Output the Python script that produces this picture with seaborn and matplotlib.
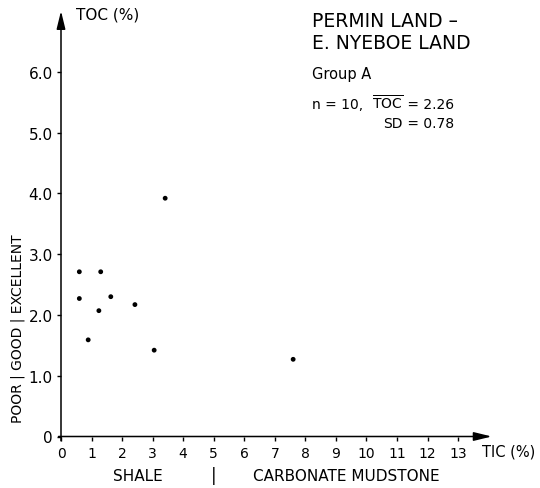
import matplotlib
matplotlib.use("Agg")
import matplotlib.pyplot as plt
import seaborn as sns
import pandas as pd

# Sample values: total inorganic carbon vs total organic carbon (%)
tic = [0.60, 1.30, 0.60, 1.63, 1.24, 2.42, 0.89, 3.05, 3.41, 7.60]
toc = [2.71, 2.71, 2.27, 2.30, 2.07, 2.17, 1.59, 1.42, 3.92, 1.27]

x_ticks = list(range(0, 14))
x_tick_labels = [str(v) for v in x_ticks]
y_ticks = [0, 1, 2, 3, 4, 5, 6]
y_tick_labels = ["0", "1.0", "2.0", "3.0", "4.0", "5.0", "6.0"]

n_samples = 10
toc_mean = 2.26
toc_sd = 0.78

sns.set_theme(style="ticks")
plt.rcParams["font.family"] = ["DejaVu Sans"]
plt.rcParams["mathtext.fontset"] = "dejavusans"
plt.rcParams["text.color"] = "black"
plt.rcParams["axes.labelcolor"] = "black"
plt.rcParams["xtick.color"] = "black"
plt.rcParams["ytick.color"] = "black"

W, H = 540, 489
fig = plt.figure(figsize=(W / 100, H / 100), dpi=100)
fig.patch.set_facecolor("white")


def px(x, y):
    return x / W, 1 - y / H


x0, y0 = 61, 437.5
x_end, y_end = 491.7, 12
ax = fig.add_axes([x0 / W, (H - y0) / H, (x_end - x0) / W, (y0 - y_end) / H])
ax.set_xlim(0, 14.1)
ax.set_ylim(0, 7.0)

df = pd.DataFrame({"TIC": tic, "TOC": toc})
sns.scatterplot(data=df, x="TIC", y="TOC", ax=ax, color="black", s=12,
                edgecolor="none", zorder=5)

for s in ax.spines.values():
    s.set_visible(False)

# axes drawn as arrows
arrow = dict(arrowstyle="-|>,head_length=0.9,head_width=0.22", color="black",
             lw=1.1, shrinkA=0, shrinkB=0, mutation_scale=12)
ax.annotate("", xy=(14.1, 0), xytext=(-0.08, 0), arrowprops=arrow,
            annotation_clip=False)
ax.annotate("", xy=(0, 7.0), xytext=(0, -0.07), arrowprops=arrow,
            annotation_clip=False)

ax.set_xticks(x_ticks)
ax.set_xticklabels(x_tick_labels, fontsize=10)
ax.set_yticks(y_ticks)
ax.set_yticklabels(y_tick_labels, fontsize=11)
ax.tick_params(axis="both", direction="out", length=3, width=1, color="black",
               labelcolor="black")
ax.tick_params(axis="x", pad=4)
ax.tick_params(axis="y", pad=3)
ax.set_xlabel("")
ax.set_ylabel("")
ax.set_facecolor("white")

# axis titles
fig.text(*px(76, 19.3), "TOC (%)", fontsize=11, ha="left", va="baseline")
fig.text(*px(481.7, 457), "TIC (%)", fontsize=10.5, ha="left", va="baseline")

# rock-type labels under the x axis
fig.text(*px(138, 481), "SHALE", fontsize=11, ha="center", va="baseline")
fig.text(*px(214, 476), "|", fontsize=12, ha="center", va="center")
fig.text(*px(346.5, 481), "CARBONATE MUDSTONE", fontsize=11, ha="center",
         va="baseline")

# source-rock quality scale along the y axis
fig.text(*px(17.5, 329), "POOR | GOOD | EXCELLENT", fontsize=10, rotation=90,
         ha="center", va="center")

# title block
fig.text(*px(312, 26.7), "PERMIN LAND \u2013", fontsize=13.5, ha="left",
         va="baseline")
fig.text(*px(312, 49), "E. NYEBOE LAND", fontsize=13.5, ha="left",
         va="baseline")
fig.text(*px(312, 79), "Group A", fontsize=10.5, ha="left", va="baseline")

# summary statistics, equals signs aligned
eq_x = 403
fig.text(*px(312, 109.3), f"n = {n_samples},", fontsize=10, ha="left",
         va="baseline")
fig.text(*px(eq_x, 109.3), r"$\overline{\mathrm{TOC}}$", fontsize=10,
         ha="right", va="baseline")
fig.text(*px(eq_x, 109.3), f" = {toc_mean:.2f}", fontsize=10, ha="left",
         va="baseline")
fig.text(*px(eq_x, 127.7), "SD", fontsize=10, ha="right", va="baseline")
fig.text(*px(eq_x, 127.7), f" = {toc_sd:.2f}", fontsize=10, ha="left",
         va="baseline")

fig.savefig("out.png", dpi=100, facecolor="white")
